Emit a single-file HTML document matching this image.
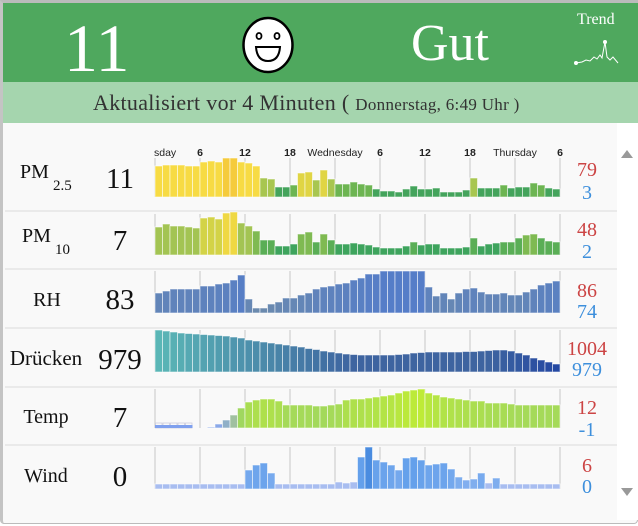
<!DOCTYPE html>
<html><head><meta charset="utf-8">
<style>
body{margin:0;width:638px;height:526px;overflow:hidden;background:#fff;font-family:"Liberation Serif","DejaVu Serif",serif;}
#w{position:absolute;left:0;top:0;width:638px;height:526px;}
.t{position:absolute;white-space:nowrap;}
</style></head><body>
<div id="w">
<div style="position:absolute;left:0;top:0;width:638px;height:524px;border:1px solid #bbb;border-top:3px solid #bbb;border-left:3px solid #c4c4c4;box-sizing:border-box;border-radius:0 0 4px 4px;background:#f9f9f9"></div>
<div style="position:absolute;left:3px;top:3px;width:635px;height:79px;background:#4fa85e"></div>
<div style="position:absolute;left:3px;top:82px;width:635px;height:41px;background:#a5d5ae"></div>
<div style="position:absolute;left:617px;top:123px;width:21px;height:397px;background:#fff"></div>
<div class="t" style="left:64px;top:10px;font-size:68px;color:#fff;line-height:76px">11</div>
<div class="t" style="left:411px;top:14px;font-size:52px;color:#fff;line-height:60px">Gut</div>
<div class="t" style="left:577px;top:11px;font-size:16px;color:#fff;line-height:18px">Trend</div>
<div class="t" style="left:93px;top:89px;font-size:22px;letter-spacing:0.3px;color:#333;line-height:28px">Aktualisiert vor 4 Minuten ( <span style="font-size:17px">Donnerstag, 6:49 Uhr )</span></div>
<svg id="s" width="638" height="526" style="position:absolute;left:0;top:0" font-family="Liberation Sans, Arial, sans-serif"></svg>
</div>
<script>
var s=document.getElementById('s'),h='';
h+='<ellipse cx="268" cy="45" rx="24.5" ry="27" fill="#fff" stroke="#000" stroke-width="2.5"/>';
h+='<ellipse cx="259" cy="36" rx="2.5" ry="3" fill="none" stroke="#000" stroke-width="1.8"/><ellipse cx="277" cy="36" rx="2.5" ry="3" fill="none" stroke="#000" stroke-width="1.8"/>';
h+='<path d="M256 47 L280 47 Q279 61 268 61 Q257 61 256 47 Z" fill="none" stroke="#000" stroke-width="2"/>';
h+='<polyline points="576,63 582,62 586,60 590,61 594,57 597,59 600,55 602,58 605,42 607,57 610,60 613,57 618,63" fill="none" stroke="#fff" stroke-width="1"/><circle cx="576" cy="63" r="2" fill="#fff"/><circle cx="605" cy="42" r="2" fill="#fff"/>';
h+='<polygon points="621,158 633,158 627,150" fill="#999"/><polygon points="621,488 633,488 627,496" fill="#999"/>';
[211,269,328,387,445].forEach(function(y){h+='<line x1="5" x2="617" y1="'+y+'" y2="'+y+'" stroke="#e6e6e6" stroke-width="1.5"/>';});
function T(x,y,txt,sz,col,anc){h+='<text x="'+x+'" y="'+y+'" font-family="Liberation Serif, DejaVu Serif, serif" font-size="'+sz+'" fill="'+(col||'#111')+'" text-anchor="'+(anc||'middle')+'">'+txt+'</text>';}
T(20,178,'PM',20,'#111','start');T(53,190,'2.5',15,'#111','start');
T(22,242,'PM',20,'#111','start');T(55,254,'10',15,'#111','start');
T(47,306,'RH',20);T(46,365,'Drücken',21);T(46,423,'Temp',20);T(46,482,'Wind',20);
T(120,188,'11',29);T(120,250,'7',29);T(120,309,'83',29);T(120,369,'979',29);T(120,427,'7',29);T(120,486,'0',29);
var rv=[[79,3,176,199],[48,2,236,258],[86,74,297,318],[1004,979,355,376],[12,-1,414,436],[6,0,472,493]];
rv.forEach(function(r){T(587,r[2],r[0],20,'#cc4444');T(587,r[3],r[1],20,'#3d8fdc');});
var ax=[[155,'sday','start'],[200,'6'],[245,'12'],[290,'18'],[335,'Wednesday'],[380,'6'],[425,'12'],[470,'18'],[515,'Thursday'],[560,'6']];
ax.forEach(function(a){h+='<text x="'+(a[2]?154:a[0])+'" y="156" font-size="10.5" font-weight="'+(a[1].length<3?'bold':'normal')+'" fill="#222" text-anchor="'+(a[2]||'middle')+'">'+a[1]+'</text>';});
function mix(a,b,t){t=Math.max(0,Math.min(1,t));var r=[0,1,2].map(function(i){return Math.round(a[i]+(b[i]-a[i])*t);});return 'rgb('+r.join(',')+')';}
var rows=[
{b:197,top:158,d:[31,32,32,32,31,31,35,36,35,39,39,35,34,31,19,18,10,10,12,24,25,17,27,18,13,13,15,13,12,8,6,6,5,8,11,8,8,9,5,5,5,7,19,9,9,9,12,9,10,10,14,12,9,8],
 c:function(v){if(v>=37)return '#f5cb3c';if(v>=30)return '#f7db44';if(v>=23)return '#e0d544';if(v>=16)return '#a8c650';if(v>=12)return '#6db552';return '#44a45c';}},
{b:255,top:214,d:[28,31,29,29,28,27,37,38,36,42,43,32,29,24,15,15,9,9,11,21,23,13,21,15,11,11,12,11,10,8,7,7,7,9,13,10,11,11,7,7,7,8,17,9,11,12,13,13,17,20,21,17,14,13],
 c:function(v){if(v>=40)return '#efd843';if(v>=34)return '#d3d347';if(v>=26)return '#a3c453';if(v>=19)return '#7fba52';if(v>=13)return '#5aae56';return '#3ea45d';}},
{b:313,top:271,d:[20,22,24,24,24,24,27,27,29,30,33,38,14,5,5,9,11,15,15,18,20,24,26,27,29,30,33,35,39,39,42,42,42,42,42,42,26,17,20,14,20,24,25,21,19,19,20,18,18,21,24,28,30,32],
 c:function(v){return mix([110,140,170],[85,125,200],v/42);}},
{b:372,top:330,d:[42,41,40,39,38.5,38,37.5,37,36.5,36,35,34,32,31,30,29,28,27,26,25,23.5,22.5,21,20,19,18,17.5,17,17,17,17,17,17.5,18,19,19.5,20,20,20,20,20,20.5,20.5,21,21.5,22,22,21,19,17,14,12,10,8],
 c:function(v,i){return i<26?mix([90,182,182],[62,100,160],i/26):mix([62,100,160],[36,72,162],Math.max(0,(i-44)/9));}},
{b:428,top:389,d:[0,0,0,0,0,-1,-1,1,4,8,13,20,26,28,29,29,27,23,23,23,23,22,22,23,24,28,29,29,30,31,32,33,35,37,38,39,35,33,31,30,29,28,27,27,25,25,25,24,23,23,23,23,23,23],
 c:function(v){if(v<6)return '#8aa8e8';if(v<10)return '#90b0c8';if(v<16)return '#a0c0a0';return mix([160,215,95],[190,235,55],(v-20)/19);}},
{b:489,top:447,d:[5,5,5,5,5,5,5,5,5,5,5,5,19,24,26,16,5,5,5,5,5,5,5,5,7,6,7,32,42,29,27,24,19,31,32,29,24,25,26,20,12,9,10,16,6,11,5,5,5,5,5,5,5,5],
 c:function(v){if(v>=40)return '#4a8ce0';if(v<=7)return '#a8bdf0';return mix([140,180,240],[100,160,235],v/32);}}
];
rows.forEach(function(r,ri){
 for(var g=0;g<10;g++){var x=155+45*g;h+='<line x1="'+x+'" x2="'+x+'" y1="'+r.top+'" y2="'+r.b+'" stroke="#c8c8c8" stroke-width="1"/>';}
 r.d.forEach(function(v,i){var x=155+7.5*i;
  if(ri==4&&v<=0){ if(v==0){h+='<rect x="'+(x+0.5)+'" y="'+(r.b-5)+'" width="6.5" height="5" fill="none" stroke="#ccd" stroke-width="0.8"/><rect x="'+x+'" y="'+(r.b-3)+'" width="7.5" height="3" fill="#7fa0ee"/>';} return;}
  h+='<rect x="'+x+'" y="'+(r.b-v)+'" width="7.5" height="'+v+'" fill="'+r.c(v,i)+'" stroke="rgba(255,255,255,0.55)" stroke-width="1"/>';});
});
s.innerHTML=h;
</script>
</body></html>
